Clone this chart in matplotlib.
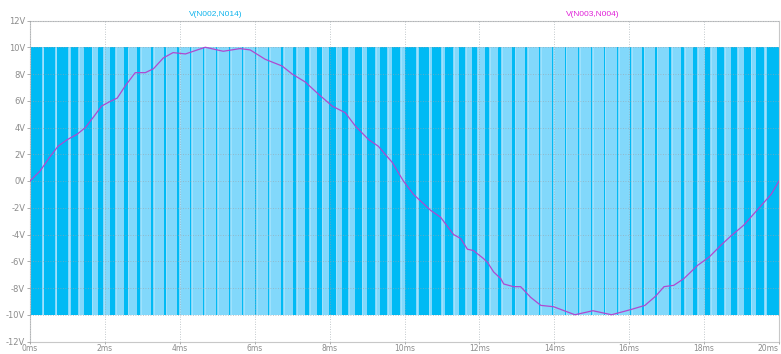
import matplotlib
matplotlib.use("Agg")
import matplotlib.pyplot as plt

# --- data (times in ms, voltages in V) ---
# dark PWM bars: centre time and width
bar_centers = [0.16, 0.52, 0.87, 1.19, 1.55, 1.88, 2.21, 2.56, 2.91, 3.26,
               3.60, 3.95, 4.29, 4.64, 4.99, 5.33, 5.68, 6.03, 6.37, 6.72,
               7.07, 7.39, 7.72, 8.07, 8.41, 8.76, 9.11, 9.44, 9.77, 10.16,
               10.51, 10.85, 11.19, 11.53, 11.87, 12.21, 12.55, 12.91, 13.25, 13.60,
               13.95, 14.29, 14.64, 14.99, 15.33, 15.68, 16.03, 16.37, 16.71, 17.08,
               17.43, 17.76, 18.09, 18.44, 18.80, 19.15, 19.49, 19.84]
bar_widths = [0.31, 0.29, 0.29, 0.21, 0.19, 0.15, 0.14, 0.10, 0.08, 0.06,
              0.045, 0.05, 0.03, 0.03, 0.03, 0.03, 0.03, 0.03, 0.035, 0.06,
              0.09, 0.11, 0.13, 0.18, 0.18, 0.19, 0.22, 0.21, 0.23, 0.31,
              0.27, 0.25, 0.21, 0.17, 0.13, 0.11, 0.08, 0.06, 0.045, 0.03,
              0.03, 0.03, 0.03, 0.03, 0.03, 0.03, 0.03, 0.035, 0.045, 0.06,
              0.09, 0.11, 0.13, 0.18, 0.18, 0.19, 0.21, 0.31]
pwm_high = 10.0
pwm_low = -10.0

# filtered output V(N003,N004)
t_out = [0.00, 0.27, 0.53, 0.75, 1.00, 1.26, 1.48, 1.70, 1.91, 2.14, 2.33, 2.54,
         2.81, 3.08, 3.30, 3.56, 3.82, 4.15, 4.68, 5.16, 5.61, 5.88, 6.28, 6.55,
         6.73, 7.00, 7.35, 7.70, 8.07, 8.42, 8.69, 9.04, 9.30, 9.67, 9.97, 10.24,
         10.70, 10.96, 11.31, 11.50, 11.68, 11.84, 12.11, 12.22, 12.38, 12.57, 12.65,
         12.91, 13.10, 13.37, 13.64, 13.98, 14.55, 15.03, 15.53, 16.06, 16.42, 16.71,
         16.93, 17.19, 17.46, 17.83, 18.13, 18.45, 18.72, 19.06, 19.44, 19.79, 20.00]
v_out = [0.0, 0.75, 1.8, 2.6, 3.1, 3.5, 4.0, 4.8, 5.6, 5.95, 6.2, 7.1,
         8.1, 8.1, 8.4, 9.2, 9.6, 9.5, 10.0, 9.7, 9.9, 9.8, 9.1, 8.8,
         8.6, 8.0, 7.4, 6.5, 5.6, 5.1, 4.1, 3.1, 2.6, 1.4, 0.0, -1.0,
         -2.2, -2.7, -4.0, -4.3, -5.1, -5.2, -5.8, -6.1, -6.8, -7.3, -7.7,
         -7.9, -7.9, -8.7, -9.3, -9.4, -10.0, -9.7, -10.0, -9.6, -9.3, -8.6,
         -7.9, -7.8, -7.3, -6.3, -5.7, -4.8, -4.1, -3.3, -2.1, -1.0, 0.0]

x_ticks = list(range(0, 21, 2))
x_labels = [f"{v}ms" for v in x_ticks]
y_ticks = list(range(-12, 13, 2))
y_labels = [f"{v}V" for v in y_ticks]
trace_names = ["V(N002,N014)", "V(N003,N004)"]

# --- styling ---
dark = "#00BAF4"
light = "#82D8FB"
mag_line = "#B048D0"
mag_text = "#E020D8"
cyan_text = "#10B4EC"
grey = "#8C8C8C"

fig = plt.figure(figsize=(7.81, 3.54), dpi=100)
ax = fig.add_axes([30 / 781, 12.5 / 354, 749 / 781, 321 / 354])
ax.set_xlim(0, 20)
ax.set_ylim(-12, 12)

# PWM trace: light base band plus dark bars
ax.fill_between([0, 20], [pwm_low, pwm_low], [pwm_high, pwm_high],
                color=light, lw=0, zorder=1)
ax.bar(bar_centers, pwm_high - pwm_low, width=bar_widths, bottom=pwm_low,
       color=dark, lw=0, zorder=2)
for c, w in zip(bar_centers, bar_widths):
    xe = c + w / 2
    ax.plot([xe + 0.02, xe + 0.02], [pwm_low, pwm_high], color="#D6F3FF",
            lw=0.5, alpha=0.5, zorder=2.5)

# filtered output
ax.plot(t_out, v_out, color=mag_line, lw=0.9, zorder=4)

# grid
ax.set_xticks(x_ticks)
ax.set_yticks(y_ticks)
ax.grid(True, color="#9AA4AA", ls=(0, (1, 2)), lw=0.6, alpha=0.8, zorder=3)
ax.set_axisbelow(False)
ax.set_xticklabels(x_labels)
ax.set_yticklabels(y_labels)
ax.tick_params(axis="y", colors=grey, labelsize=6, length=2, width=0.5, pad=1.5)
ax.tick_params(axis="x", colors=grey, labelsize=5.5, length=1.5, width=0.5, pad=0.5)
for lbl in ax.get_xticklabels() + ax.get_yticklabels():
    lbl.set_color(grey)
ax.get_xticklabels()[-1].set_horizontalalignment("right")
for s in ax.spines.values():
    s.set_color("#C8C8C8")
    s.set_linewidth(0.8)

# trace names
fig.text(216 / 781, 1 - 14 / 354, trace_names[0], color=cyan_text, fontsize=6,
         ha="center", va="center", family="Liberation Sans")
fig.text(593 / 781, 1 - 14 / 354, trace_names[1], color=mag_text, fontsize=6,
         ha="center", va="center", family="Liberation Sans")

fig.savefig("out.png", dpi=100)
